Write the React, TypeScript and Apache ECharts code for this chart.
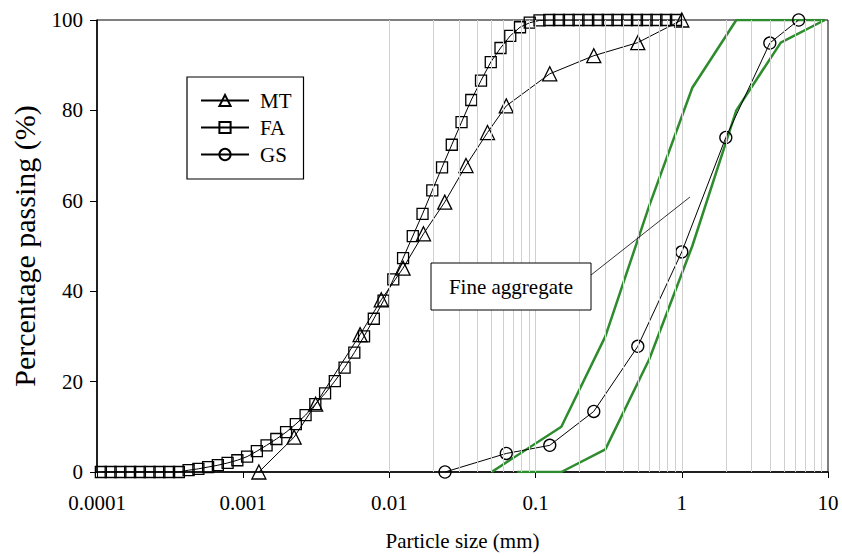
import React, { useEffect, useRef } from "react";
import * as echarts from "echarts";

const FONT = "'Liberation Serif', 'Times New Roman', serif";

// Tick labels (decades of the log axis)
const X_TICK_LABELS = ["0.0001", "0.001", "0.01", "0.1", "1", "10"];
const Y_TICKS = [0, 20, 40, 60, 80, 100];
const MINOR_MULTIPLES = [1, 2, 3, 4, 5, 6, 7, 8, 9];

// MT
const MT_SIZE = [0.00128, 0.00223, 0.00313, 0.0063, 0.0088, 0.0124, 0.0171, 0.0239, 0.0334, 0.0469, 0.063, 0.125, 0.25, 0.5, 1];
const MT_PASS = [0, 7.7, 15.0, 30.4, 38.1, 45.1, 52.7, 59.7, 67.8, 75.1, 81.0, 88.1, 92.1, 95.0, 100];

// FA
const FA_SIZE = [
  0.0001063, 0.000124, 0.0001445, 0.0001685, 0.0001965, 0.0002291, 0.0002671, 0.0003114, 0.0003631, 0.0004233, 0.0004936, 0.0005754, 0.0006708, 0.0007822, 0.000912,
  0.001063, 0.00124, 0.001445, 0.001685, 0.001965, 0.002291, 0.002671, 0.003114, 0.003631, 0.004233, 0.004936, 0.005754, 0.006708, 0.007822, 0.00912,
  0.01063, 0.0124, 0.01445, 0.01685, 0.01965, 0.02291, 0.02671, 0.03114, 0.03631, 0.04233, 0.04936, 0.05754, 0.06708, 0.07822, 0.0912,
  0.1063, 0.124, 0.1445, 0.1685, 0.1965, 0.2291, 0.2671, 0.3114, 0.3631, 0.4233, 0.4936, 0.5754, 0.6708, 0.7822, 0.912,
];
const FA_PASS = [
  0, 0, 0, 0, 0, 0, 0, 0, 0, 0.4, 0.7, 1.1, 1.5, 2.0, 2.6,
  3.4, 4.6, 5.9, 7.3, 8.8, 10.6, 12.6, 15.0, 17.4, 20.1, 23.1, 26.4, 30.0, 33.9, 37.9,
  42.6, 47.3, 52.2, 57.1, 62.3, 67.4, 72.4, 77.4, 82.3, 86.6, 90.7, 93.8, 96.5, 98.4, 99.4,
  99.9, 100, 100, 100, 100, 100, 100, 100, 100, 100, 100, 100, 100, 100, 100,
];

// GS
const GS_SIZE = [0.024, 0.063, 0.125, 0.25, 0.5, 1, 2, 4, 6.3];
const GS_PASS = [0, 4.1, 5.9, 13.4, 27.8, 48.7, 74.0, 94.9, 100];

// Fine aggregate grading envelope
const UPPER_SIZE = [0.05, 0.15, 0.3, 0.6, 1.18, 2.36, 9.5];
const UPPER_PASS = [0, 10, 30, 59, 85, 100, 100];
const LOWER_SIZE = [0.075, 0.15, 0.3, 0.6, 1.18, 2.36, 4.75, 9.5];
const LOWER_PASS = [0, 0, 5, 25, 50, 80, 95, 100];

const zip = (xs: number[], ys: number[]) => xs.map((x, i) => [x, ys[i]]);

export default function App() {
  const ref = useRef<HTMLDivElement>(null);

  useEffect(() => {
    if (!ref.current) return;
    const chart = echarts.init(ref.current, null, { renderer: "svg" });

    const minorLines: { xAxis: number }[] = [];
    for (let e = -4; e <= 0; e++) {
      for (const m of MINOR_MULTIPLES) {
        if (e === -4 && m === 1) continue;
        minorLines.push({ xAxis: m * Math.pow(10, e) });
      }
    }

    const markerStyle = { color: "rgba(255,255,255,0)", borderColor: "#000", borderWidth: 1.3 };
    const green = "#2e8b2e";

    chart.setOption({
      animation: false,
      textStyle: { fontFamily: FONT, color: "#000" },
      grid: {
        left: 97,
        right: 14,
        top: 20,
        bottom: 81,
        show: true,
        borderColor: "#000",
        borderWidth: 1,
        backgroundColor: "rgba(0,0,0,0)",
      },
      legend: {
        data: ["MT", "FA", "GS"],
        orient: "vertical",
        left: 187,
        top: 77,
        width: 118,
        padding: [13, 12, 14, 13],
        itemGap: 6,
        itemWidth: 48,
        itemHeight: 14,
        backgroundColor: "#fff",
        borderColor: "#000",
        borderWidth: 1.2,
        z: 10,
        textStyle: { fontFamily: FONT, fontSize: 21, color: "#000", lineHeight: 21, padding: [0, 0, 0, 6] },
      },
      xAxis: {
        type: "log",
        logBase: 10,
        min: 0.0001,
        max: 10,
        name: "Particle size (mm)",
        nameLocation: "middle",
        nameGap: 58,
        nameTextStyle: { fontFamily: FONT, fontSize: 21, color: "#000" },
        axisLine: { lineStyle: { color: "#000", width: 1.5 } },
        axisTick: { show: true, inside: false, length: 6, lineStyle: { color: "#000", width: 1 } },
        axisLabel: {
          fontFamily: FONT,
          fontSize: 21,
          color: "#000",
          margin: 20,
          formatter: (v: number) => X_TICK_LABELS[Math.round(Math.log10(v)) + 4] ?? "",
        },
        splitLine: { show: false },
      },
      yAxis: {
        type: "value",
        min: Y_TICKS[0],
        max: Y_TICKS[Y_TICKS.length - 1],
        interval: 20,
        name: "Percentage passing (%)",
        nameLocation: "middle",
        nameGap: 58,
        nameTextStyle: { fontFamily: FONT, fontSize: 30, color: "#000" },
        axisLine: { show: true, lineStyle: { color: "#000", width: 1.5 } },
        axisTick: { show: true, inside: false, length: 7, lineStyle: { color: "#000", width: 1 } },
        axisLabel: { fontFamily: FONT, fontSize: 21, color: "#000", margin: 14 },
        splitLine: { show: false },
      },
      series: [
        {
          name: "grid",
          type: "line",
          data: [],
          silent: true,
          z: 1,
          markLine: {
            silent: true,
            symbol: ["none", "none"],
            label: { show: false },
            lineStyle: { color: "#d0d0d0", width: 1, type: "solid" },
            emphasis: { disabled: true },
            data: minorLines,
          },
        },
        {
          name: "Upper limit",
          type: "line",
          data: zip(UPPER_SIZE, UPPER_PASS),
          symbol: "none",
          lineStyle: { color: green, width: 2.5 },
          itemStyle: { color: green },
          z: 2,
          silent: true,
        },
        {
          name: "Lower limit",
          type: "line",
          data: zip(LOWER_SIZE, LOWER_PASS),
          symbol: "none",
          lineStyle: { color: green, width: 2.5 },
          itemStyle: { color: green },
          z: 2,
          silent: true,
        },
        {
          name: "MT",
          type: "line",
          data: zip(MT_SIZE, MT_PASS),
          symbol: "triangle",
          symbolSize: 14,
          lineStyle: { color: "#000", width: 1 },
          itemStyle: markerStyle,
          z: 4,
        },
        {
          name: "FA",
          type: "line",
          data: zip(FA_SIZE, FA_PASS),
          symbol: "rect",
          symbolSize: 11,
          lineStyle: { color: "#000", width: 1 },
          itemStyle: markerStyle,
          z: 4,
        },
        {
          name: "GS",
          type: "line",
          data: zip(GS_SIZE, GS_PASS),
          symbol: "circle",
          symbolSize: 12,
          lineStyle: { color: "#000", width: 1 },
          itemStyle: markerStyle,
          z: 4,
        },
      ],
      graphic: [
        {
          type: "line",
          z: 20,
          shape: { x1: 591, y1: 275, x2: 690, y2: 197 },
          style: { stroke: "#000", lineWidth: 0.8 },
        },
        {
          type: "rect",
          z: 21,
          shape: { x: 431, y: 263, width: 160, height: 47 },
          style: { fill: "#fff", stroke: "#000", lineWidth: 1 },
        },
        {
          type: "text",
          z: 22,
          x: 511,
          y: 287,
          style: {
            text: "Fine aggregate",
            fontFamily: FONT,
            fontSize: 21,
            fill: "#000",
            align: "center",
            verticalAlign: "middle",
          },
        },
      ],
    });

    return () => chart.dispose();
  }, []);

  return <div ref={ref} style={{ width: 842, height: 556, position: "absolute", left: 0, top: 0 }} />;
}
